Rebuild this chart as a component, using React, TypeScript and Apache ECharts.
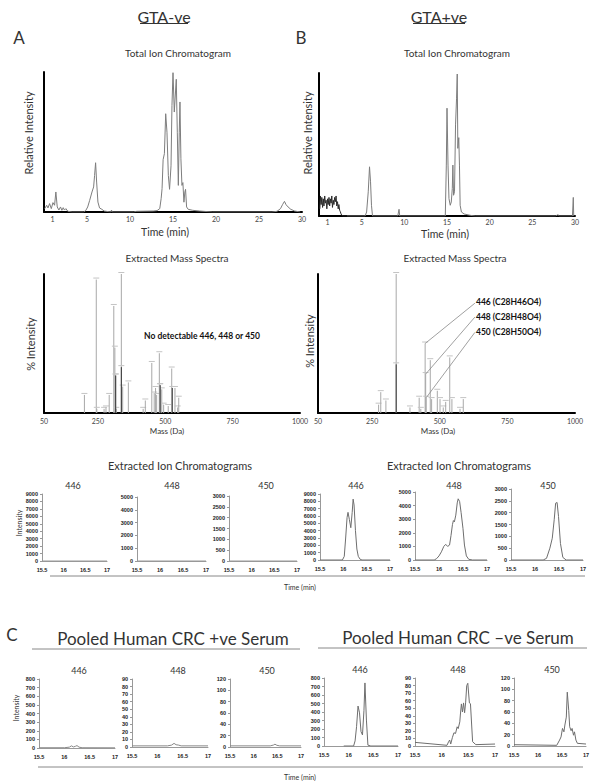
import React, { useEffect, useRef } from 'react';
import * as echarts from 'echarts';

const FONT = 'Lato, "Open Sans", "Liberation Sans", sans-serif';
const TINY = '"Liberation Sans", Arial, sans-serif';

// ---------- tick labels ----------
const ticTickLabels = [1, 5, 10, 15, 20, 25, 30];
const massTickLabels = [50, 250, 500, 750, 1000];

// ---------- Total ion chromatograms (time min, relative intensity %) ----------
const ticA: number[][] = [
  [0.08, 2.4], [0.31, 4.8], [0.46, 2.9], [0.65, 6], [0.85, 2.4], [1.04, 6.7], [1.23, 4.8], [1.38, 14.3],
  [1.54, 3.6], [1.73, 1.4], [1.92, 3.6], [2.08, 1.2], [2.23, 3.1], [2.38, 1.4], [2.54, 2.4], [2.77, 0.5],
  [3.27, 0], [4.6, 0], [4.85, 1], [5.08, 3.6], [5.31, 8.3], [5.58, 14.3], [5.77, 17.9], [5.88, 26],
  [6.0, 35.2], [6.12, 21.4], [6.27, 7.1], [6.46, 2.9], [6.73, 1.9], [7.0, 0.7], [7.77, 0], [7.85, 1.4],
  [7.92, 0], [10.4, 0], [10.8, 0.5], [12.7, 0.7], [13.15, 1], [13.46, 2.4], [13.62, 9.5], [13.73, 16.7],
  [13.85, 37.4], [14.0, 41.7], [14.15, 70.2], [14.3, 57], [14.46, 26], [14.6, 16.2], [14.77, 33],
  [14.88, 76], [15.0, 99.5], [15.15, 71.4], [15.38, 94.8], [15.5, 57], [15.62, 19], [15.73, 57],
  [15.81, 78.6], [15.92, 38], [16.04, 19], [16.15, 21], [16.27, 7], [16.38, 14.3], [16.46, 16.2],
  [16.58, 3.6], [16.77, 1.9], [17.3, 1.2], [18.1, 0.7], [19.6, 0], [26.5, 0], [27.1, 0.5], [27.5, 2.4],
  [27.73, 5.2], [27.96, 7.6], [28.15, 5.2], [28.38, 3.6], [28.7, 1.9], [29.15, 0.7], [29.8, 0],
];
const ticBNoise: number[][] = [
  [0.1, 5], [0.17, 14], [0.25, 8], [0.33, 13], [0.42, 6], [0.5, 12], [0.58, 7], [0.67, 14], [0.75, 9],
  [0.83, 11], [0.92, 5], [1.0, 12], [1.08, 8], [1.17, 13], [1.25, 7], [1.33, 12], [1.42, 9], [1.5, 14],
  [1.58, 6], [1.67, 11], [1.75, 8], [1.83, 13], [1.92, 10], [2.0, 14], [2.08, 7], [2.17, 10], [2.25, 5],
  [2.33, 8], [2.42, 4], [2.5, 3], [2.58, 1.5], [2.67, 0.5], [2.8, 0], [3.27, 0],
];
const ticB: number[][] = [
  [3.27, 0], [5.4, 0], [5.58, 2.8], [5.77, 16.9], [5.92, 34.4], [6.04, 23.9], [6.15, 7.5], [6.27, 0],
  [9.23, 0], [9.38, 4.7], [9.46, 0], [14.8, 0], [14.92, 35.6], [15.0, 75.4], [15.12, 35.6], [15.23, 12.2],
  [15.38, 7.5], [15.5, 9.8], [15.62, 19.2], [15.69, 35.6], [15.77, 14.5], [15.88, 16.9], [16.0, 63.7],
  [16.12, 82.4], [16.2, 99.3], [16.27, 47.3], [16.38, 54.8], [16.46, 35.6], [16.54, 7.5], [16.69, 2.8],
  [17.0, 1.4], [17.7, 0.5], [18.3, 0], [27.7, 0], [28.0, 0.9], [28.2, 0], [29.7, 0], [29.8, 13], [29.85, 0],
];

// ---------- Extracted mass spectra (mass Da, % intensity) ----------
const msAPeaks: number[][] = [
  [200, 13], [244, 96], [246, 3], [273, 3], [280, 4], [292, 13], [309, 77], [313, 47], [316, 27], [318, 3],
  [337, 100], [342, 19], [363, 22], [418, 3], [426, 9], [450, 36], [459, 14], [464, 18], [468, 13],
  [478, 43], [481, 20], [487, 17], [494, 6], [511, 5], [524, 32], [536, 18], [546, 4], [550, 11],
];
const msADark: number[][] = [[337, 33], [316, 27], [481, 20], [526, 18]];
const msBPeaks: number[][] = [
  [274, 6], [282, 15], [301, 9], [339, 100], [390, 4], [424, 11], [430, 3], [446, 50], [448, 28], [450, 11],
  [465, 38], [470, 10], [491, 16], [501, 10], [513, 4], [522, 8], [537, 40], [545, 10], [575, 3], [587, 10],
];
const msBDark: number[][] = [[339, 35]];
const callout446: number[][] = [[446, 50], [630, 79]];
const callout448: number[][] = [[448, 28], [630, 69]];
const callout450: number[][] = [[450, 11], [630, 58]];

// ---------- Extracted ion chromatograms (time min, intensity) ----------
const eicAFlat: number[][] = [[15.5, 0], [17, 0]];
const eicB446: number[][] = [
  [15.5, 0], [15.98, 0], [16.02, 500], [16.05, 3000], [16.08, 5800], [16.1, 6500], [16.13, 5500],
  [16.16, 4400], [16.19, 6500], [16.21, 8300], [16.23, 7500], [16.26, 4000], [16.29, 1500], [16.32, 500],
  [16.36, 100], [16.4, 0], [17, 0],
];
const eicB448: number[][] = [
  [15.5, 0], [15.9, 0], [15.95, 100], [16.0, 300], [16.05, 600], [16.1, 1000], [16.14, 1150], [16.18, 1000],
  [16.22, 1100], [16.25, 1800], [16.28, 2600], [16.3, 2900], [16.32, 2800], [16.35, 3300], [16.38, 4200],
  [16.4, 4500], [16.43, 4300], [16.46, 3500], [16.5, 2300], [16.53, 1100], [16.57, 300], [16.62, 50],
  [16.7, 0], [17, 0],
];
const eicB450: number[][] = [
  [15.5, 0], [16.17, 0], [16.24, 70], [16.31, 500], [16.36, 920], [16.4, 1700], [16.43, 2400],
  [16.46, 2430], [16.49, 1840], [16.53, 700], [16.58, 110], [16.65, 0], [17, 0],
];
const serumPos446: number[][] = [
  [15.5, 3], [16.0, 3], [16.1, 10], [16.14, 25], [16.18, 12], [16.22, 20], [16.25, 28], [16.29, 10],
  [16.35, 3], [17, 2],
];
const serumPos448: number[][] = [
  [15.5, 1.5], [16.2, 1.5], [16.28, 2.5], [16.33, 4.8], [16.37, 3], [16.42, 2.5], [16.47, 1.5], [17, 1.5],
];
const serumPos450: number[][] = [
  [15.5, 2], [16.35, 2], [16.42, 3.5], [16.45, 5], [16.49, 3], [16.55, 2], [17, 2],
];
const serumNeg446: number[][] = [
  [15.9, 0], [16.1, 0], [16.13, 60], [16.16, 227], [16.19, 470], [16.22, 390], [16.25, 170], [16.28, 130],
  [16.31, 420], [16.33, 742], [16.36, 305], [16.39, 10], [16.45, 0], [17, 0],
];
const serumNeg448: number[][] = [
  [15.5, 4.8], [16.1, 0.9], [16.13, 5.7], [16.15, 7.9], [16.17, 2.6], [16.2, 11], [16.23, 17.5],
  [16.26, 16.6], [16.29, 25.4], [16.31, 23], [16.34, 32], [16.35, 41], [16.37, 55.7], [16.39, 45],
  [16.41, 57], [16.43, 44], [16.45, 58], [16.47, 80], [16.49, 83], [16.52, 57], [16.54, 56],
  [16.58, 5.7], [16.64, 1.8], [17, 2.6],
];
const serumNeg450: number[][] = [
  [15.5, 2.3], [16.39, 1.2], [16.45, 10.5], [16.48, 16], [16.51, 31], [16.54, 25], [16.56, 37],
  [16.59, 51], [16.61, 95], [16.64, 63], [16.66, 34], [16.69, 27], [16.71, 31], [16.74, 19],
  [16.76, 25], [16.79, 10.5], [16.82, 4.7], [17, 3.5],
];

const eicMax = { i446: 9000, i448: 5000, i450: 3000 };
const serumMax = { i446: 800, i448: 90, i450: 120 };

const plain = (v: number) => String(v);

function buildOption() {
  const grids: any[] = [];
  const xAxes: any[] = [];
  const yAxes: any[] = [];
  const series: any[] = [];

  const add = (box: any, xa: any, ya: any) => {
    const i = grids.length;
    grids.push({ ...box });
    xAxes.push({ ...xa, gridIndex: i });
    yAxes.push({ ...ya, gridIndex: i });
    return i;
  };

  const blackAxis = { show: true, lineStyle: { color: '#000', width: 2 } };
  const ticX = (margin: number) => ({
    type: 'value', min: 0, max: 30, axisLine: blackAxis, axisTick: { show: false }, splitLine: { show: false },
    axisLabel: { customValues: ticTickLabels, fontSize: 7, color: '#444', fontFamily: FONT, margin, formatter: plain },
  });
  const massX = {
    type: 'value', min: 50, max: 1000, axisLine: blackAxis, axisTick: { show: false }, splitLine: { show: false },
    axisLabel: { customValues: massTickLabels, fontSize: 7, color: '#444', fontFamily: FONT, margin: 4, formatter: plain },
  };
  const pctY = {
    type: 'value', min: 0, max: 100, axisLine: blackAxis, axisTick: { show: false },
    axisLabel: { show: false }, splitLine: { show: false },
  };
  const eicX = {
    type: 'value', min: 15.5, max: 17, interval: 0.5,
    axisLine: { show: true, lineStyle: { color: '#999', width: 1 } }, axisTick: { show: false },
    splitLine: { show: false },
    axisLabel: { fontSize: 5.5, fontWeight: 'bold', color: '#222', fontFamily: TINY, margin: 6, formatter: plain },
  };
  const eicY = (max: number, interval: number) => ({
    type: 'value', min: 0, max, interval,
    axisLine: { show: true, lineStyle: { color: '#999', width: 1 } },
    axisTick: { show: true, length: 2, lineStyle: { color: '#999' } },
    splitLine: { show: false },
    axisLabel: { fontSize: 5.5, fontWeight: 'bold', color: '#222', fontFamily: TINY, margin: 4, formatter: plain },
  });

  const line = (i: number, data: number[][], color = '#7a7a7a', width = 1) => {
    series.push({
      type: 'line', xAxisIndex: i, yAxisIndex: i, data, showSymbol: false, symbol: 'none',
      lineStyle: { color, width }, silent: true,
    });
  };
  const sticks = (i: number, data: number[][], color: string) => {
    series.push({
      type: 'custom', coordinateSystem: 'cartesian2d', xAxisIndex: i, yAxisIndex: i, data,
      encode: { x: 0, y: 1 }, silent: true,
      renderItem: (_p: any, api: any) => {
        const x = api.value(0);
        const y = api.value(1);
        const p0 = api.coord([x, 0]);
        const p1 = api.coord([x, y]);
        return {
          type: 'group',
          children: [
            { type: 'line', shape: { x1: p0[0], y1: p0[1], x2: p1[0], y2: p1[1] }, style: { stroke: color, lineWidth: 1 } },
            { type: 'line', shape: { x1: p1[0] - 3, y1: p1[1] - 1.5, x2: p1[0] + 3, y2: p1[1] - 1.5 }, style: { stroke: '#c4c4c4', lineWidth: 1 } },
          ],
        };
      },
    });
  };

  // TIC
  const tA = add({ left: 44, top: 72, width: 258, height: 140 }, ticX(3), pctY);
  line(tA, ticA, '#7d7d7d');
  const tB = add({ left: 319, top: 73, width: 256, height: 143 }, ticX(2), pctY);
  line(tB, ticB, '#7d7d7d');
  line(tB, ticBNoise, '#2a2a2a');

  // Mass spectra
  const mA = add({ left: 44, top: 274, width: 256, height: 139 }, massX, pctY);
  sticks(mA, msAPeaks, '#a8a8a8');
  sticks(mA, msADark, '#333');
  const mB = add({ left: 318, top: 274, width: 257, height: 139 }, massX, pctY);
  sticks(mB, msBPeaks, '#a8a8a8');
  sticks(mB, msBDark, '#333');
  line(mB, callout446, '#888', 0.8);
  line(mB, callout448, '#888', 0.8);
  line(mB, callout450, '#888', 0.8);

  // EIC GTA-ve
  const a1 = add({ left: 42, top: 494, width: 65, height: 67 }, eicX, eicY(eicMax.i446, 1000));
  line(a1, eicAFlat, '#999');
  const a2 = add({ left: 137, top: 497, width: 69, height: 64 }, eicX, eicY(eicMax.i448, 1000));
  line(a2, eicAFlat, '#999');
  const a3 = add({ left: 229, top: 496, width: 68, height: 65 }, eicX, eicY(eicMax.i450, 500));
  line(a3, eicAFlat, '#999');
  // EIC GTA+ve
  const b1 = add({ left: 320, top: 494, width: 70, height: 66 }, eicX, eicY(eicMax.i446, 1000));
  line(b1, eicB446, '#6e6e6e');
  const b2 = add({ left: 415, top: 492, width: 72, height: 68 }, eicX, eicY(eicMax.i448, 1000));
  line(b2, eicB448, '#6e6e6e');
  const b3 = add({ left: 511, top: 489, width: 72, height: 71 }, eicX, eicY(eicMax.i450, 500));
  line(b3, eicB450, '#6e6e6e');

  // Serum +ve
  const c1 = add({ left: 39, top: 679, width: 76, height: 69 }, eicX, eicY(serumMax.i446, 100));
  line(c1, serumPos446, '#888');
  const c2 = add({ left: 132, top: 679, width: 76, height: 68 }, eicX, eicY(serumMax.i448, 10));
  line(c2, serumPos448, '#888');
  const c3 = add({ left: 230, top: 679, width: 71, height: 68 }, eicX, eicY(serumMax.i450, 20));
  line(c3, serumPos450, '#888');
  // Serum -ve
  const d1 = add({ left: 324, top: 678, width: 74, height: 68 }, eicX, eicY(serumMax.i446, 100));
  line(d1, serumNeg446, '#6e6e6e');
  const d2 = add({ left: 415, top: 678, width: 80, height: 68 }, eicX, eicY(serumMax.i448, 10));
  line(d2, serumNeg448, '#6e6e6e');
  const d3 = add({ left: 514, top: 678, width: 72, height: 68 }, eicX, eicY(serumMax.i450, 20));
  line(d3, serumNeg450, '#6e6e6e');

  const txt = (text: string, x: number, y: number, size: number, o: any = {}) => ({
    type: 'text', x, y, rotation: o.rot ? Math.PI / 2 : 0, silent: true,
    style: {
      text, fontSize: size, fontFamily: o.family || FONT, fontWeight: o.bold ? 'bold' : 'normal',
      fill: o.fill || '#333', align: o.align || 'center', textAlign: o.align || 'center',
      verticalAlign: 'middle', textVerticalAlign: 'middle',
    },
  });
  const hl = (x1: number, x2: number, y: number, color = '#888') => ({
    type: 'line', silent: true, shape: { x1, y1: y, x2, y2: y }, style: { stroke: color, lineWidth: 1 },
  });

  const graphic = [
    txt('GTA-ve', 164, 16, 16), hl(140, 188, 23.5, '#333'),
    txt('GTA+ve', 439, 16, 16), hl(413, 465, 23.5, '#333'),
    txt('A', 19, 37, 17), txt('B', 301, 37, 17),
    txt('Total Ion Chromatogram', 178, 53, 10), txt('Total Ion Chromatogram', 457, 53, 10),
    txt('Relative Intensity', 28, 133, 11, { rot: true }), txt('Relative Intensity', 307, 133, 11, { rot: true }),
    txt('Time (min)', 165, 232, 10.5), txt('Time (min)', 445, 234, 10.5),
    txt('Extracted Mass Spectra', 177, 258, 10), txt('Extracted Mass Spectra', 455, 258, 10),
    txt('% Intensity', 30, 344, 11, { rot: true }), txt('% Intensity', 309, 341, 11, { rot: true }),
    txt('Mass (Da)', 167, 431, 8), txt('Mass (Da)', 438, 431, 8),
    txt('No detectable 446, 448 or 450', 202, 336, 8.5, { bold: true, fill: '#111' }),
    txt('446 (C28H46O4)', 476, 302, 8.5, { bold: true, fill: '#111', align: 'left' }),
    txt('448 (C28H48O4)', 476, 317, 8.5, { bold: true, fill: '#111', align: 'left' }),
    txt('450 (C28H50O4)', 476, 332, 8.5, { bold: true, fill: '#111', align: 'left' }),
    txt('Extracted Ion Chromatograms', 180, 465, 11), txt('Extracted Ion Chromatograms', 459, 465, 11),
    txt('446', 73, 485, 9), txt('448', 172, 485, 9), txt('450', 266, 485, 9),
    txt('446', 356, 485, 9), txt('448', 454, 485, 9), txt('450', 548, 485, 9),
    txt('Intensity', 19, 523, 7, { rot: true }),
    hl(50, 585, 576), txt('Time (min)', 300, 587, 7),
    txt('C', 12, 634, 17),
    txt('Pooled Human CRC +ve Serum', 173, 638, 17), txt('Pooled Human CRC \u2013ve Serum', 458, 637, 17),
    hl(32, 300, 649), hl(318, 587, 648),
    txt('446', 79, 670, 9), txt('448', 178, 670, 9), txt('450', 267, 670, 9),
    txt('446', 360, 669, 9), txt('448', 458, 669, 9), txt('450', 552, 669, 9),
    txt('Intensity', 16, 708, 7, { rot: true }),
    hl(38, 583, 767), txt('Time (min)', 300, 777, 7),
  ];

  return {
    animation: false,
    backgroundColor: '#fff',
    grid: grids,
    xAxis: xAxes,
    yAxis: yAxes,
    series,
    graphic,
  };
}

export default function App() {
  const ref = useRef<HTMLDivElement>(null);
  useEffect(() => {
    document.body.style.margin = '0';
    if (!ref.current) return;
    const chart = echarts.init(ref.current, undefined, { renderer: 'svg' });
    chart.setOption(buildOption() as any);
    return () => chart.dispose();
  }, []);
  return <div ref={ref} style={{ width: 600, height: 781 }} />;
}
